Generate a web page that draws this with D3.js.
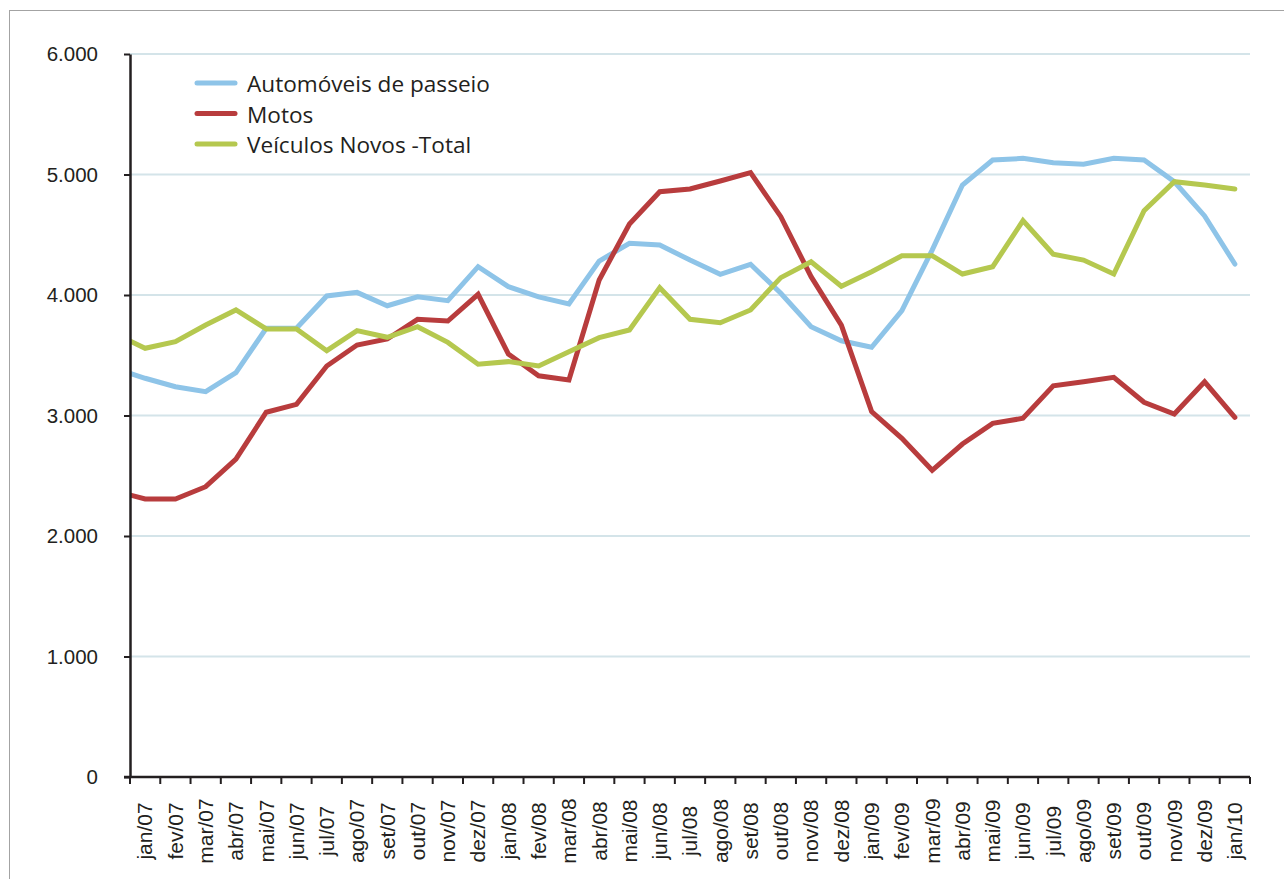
<!DOCTYPE html>
<html>
<head>
<meta charset="utf-8">
<script src="https://cdn.jsdelivr.net/npm/d3@7"></script>
<style>
body { margin: 0; background: #fff; }
</style>
</head>
<body>
<div id="chart"></div>
<script>
// first entry (dez/06) only feeds the clipped lead-in segment at the axis
const months = ["dez/06",
  "jan/07","fev/07","mar/07","abr/07","mai/07","jun/07","jul/07","ago/07","set/07","out/07","nov/07","dez/07",
  "jan/08","fev/08","mar/08","abr/08","mai/08","jun/08","jul/08","ago/08","set/08","out/08","nov/08","dez/08",
  "jan/09","fev/09","mar/09","abr/09","mai/09","jun/09","jul/09","ago/09","set/09","out/09","nov/09","dez/09",
  "jan/10"];
const tickMonths = months.slice(1);

const automoveis = [3391,
  3309,3239,3198,3355,3724,3724,3992,4022,3911,3985,3953,4235,
  4069,3985,3925,4282,4429,4415,4290,4172,4255,4014,3737,3620,
  3566,3870,4373,4913,5120,5134,5098,5085,5134,5120,4940,4656,
  4257];
const motos = [2373,
  2307,2307,2409,2639,3027,3093,3411,3585,3635,3798,3784,4006,
  3510,3330,3295,4125,4589,4857,4880,4946,5015,4650,4152,3750,
  3032,2810,2545,2763,2935,2977,3247,3280,3317,3110,3012,3280,
  2985];
const veiculosTotal = [3678,
  3558,3612,3751,3876,3718,3718,3538,3704,3649,3737,3607,3425,
  3447,3411,3530,3646,3710,4061,3798,3770,3876,4144,4276,4073,
  4193,4326,4326,4174,4235,4617,4338,4290,4174,4700,4940,4913,
  4880];
const yTicks = [0, 1000, 2000, 3000, 4000, 5000, 6000];

const series = [
  {name: "Automóveis de passeio", values: automoveis, color: "#8ec4e8"},
  {name: "Motos", values: motos, color: "#b83c3d"},
  {name: "Veículos Novos -Total", values: veiculosTotal, color: "#b5c84f"}
];

const W = 1284, H = 879;
const plot = {left: 130, right: 1250, top: 54, bottom: 777};
const step = (plot.right - plot.left) / tickMonths.length;

const svg = d3.select("#chart").append("svg")
  .attr("width", W)
  .attr("height", H);

svg.append("rect")
  .attr("x", 9.5).attr("y", 10.5)
  .attr("width", W + 20).attr("height", H + 20)
  .attr("fill", "none")
  .attr("stroke", "#a3a3a3")
  .attr("stroke-width", 1);

const x = d3.scalePoint()
  .domain(months)
  .range([plot.left - step / 2, plot.right - step / 2]);

const y = d3.scaleLinear()
  .domain([0, 6000])
  .range([plot.bottom, plot.top]);

const ptBR = d3.formatLocale({decimal: ",", thousands: ".", grouping: [3], currency: ["R$", ""]});
const fmt = ptBR.format(",d");

// gridlines
svg.append("g")
  .selectAll("line")
  .data(yTicks.filter(d => d > 0))
  .join("line")
  .attr("x1", plot.left).attr("x2", plot.right)
  .attr("y1", d => y(d)).attr("y2", d => y(d))
  .attr("stroke", "#d4e4e9")
  .attr("stroke-width", 2);

// lines
svg.append("defs").append("clipPath")
  .attr("id", "plotclip")
  .append("rect")
  .attr("x", plot.left).attr("y", 0)
  .attr("width", plot.right - plot.left + 10).attr("height", plot.bottom);

const line = d3.line()
  .x((d, i) => x(months[i]))
  .y(d => y(d));

svg.append("g")
  .attr("clip-path", "url(#plotclip)")
  .selectAll("path")
  .data(series)
  .join("path")
  .attr("d", d => line(d.values))
  .attr("fill", "none")
  .attr("stroke", d => d.color)
  .attr("stroke-width", 5)
  .attr("stroke-linejoin", "miter")
  .attr("stroke-linecap", "round");

// y axis
const yAxis = svg.append("g")
  .attr("transform", `translate(${plot.left},0)`)
  .call(d3.axisLeft(y).tickValues(yTicks).tickFormat(fmt).tickSize(6).tickSizeOuter(0).tickPadding(26));
yAxis.select(".domain").attr("stroke", "#231f20").attr("stroke-width", 2.5);
yAxis.selectAll(".tick line").attr("stroke", "#231f20").attr("stroke-width", 2);
yAxis.selectAll(".tick text")
  .attr("fill", "#231f20")
  .style("font-family", "'Liberation Sans', Arial, sans-serif")
  .style("font-size", "20.5px");

// x axis
const xAxis = svg.append("g");
xAxis.append("line")
  .attr("x1", plot.left - 6).attr("x2", plot.right)
  .attr("y1", plot.bottom).attr("y2", plot.bottom)
  .attr("stroke", "#231f20")
  .attr("stroke-width", 2.5);
xAxis.selectAll(".xtick")
  .data(tickMonths.concat(["end"]))
  .join("line")
  .attr("class", "xtick")
  .attr("x1", (d, i) => plot.left + i * step)
  .attr("x2", (d, i) => plot.left + i * step)
  .attr("y1", plot.bottom).attr("y2", plot.bottom + 7)
  .attr("stroke", "#231f20")
  .attr("stroke-width", 2);
xAxis.selectAll(".xlabel")
  .data(tickMonths)
  .join("text")
  .attr("class", "xlabel")
  .attr("transform", d => `translate(${x(d)},831)rotate(-90)`)
  .attr("dy", "0.35em")
  .attr("text-anchor", "middle")
  .attr("fill", "#231f20")
  .style("font-family", "'Liberation Sans', Arial, sans-serif")
  .style("font-size", "21px")
  .text(d => d);

// legend
const legend = svg.append("g")
  .selectAll("g")
  .data(series)
  .join("g")
  .attr("transform", (d, i) => `translate(197,${83 + i * 30.5})`);
legend.append("line")
  .attr("x1", 0).attr("x2", 38)
  .attr("stroke", d => d.color)
  .attr("stroke-width", 5)
  .attr("stroke-linecap", "round");
legend.append("text")
  .attr("x", 50)
  .attr("y", 9)
  .attr("fill", "#231f20")
  .style("font-family", "'Open Sans', 'Noto Sans', sans-serif")
  .style("font-size", "22.6px")
  .text(d => d.name);
</script>
</body>
</html>
